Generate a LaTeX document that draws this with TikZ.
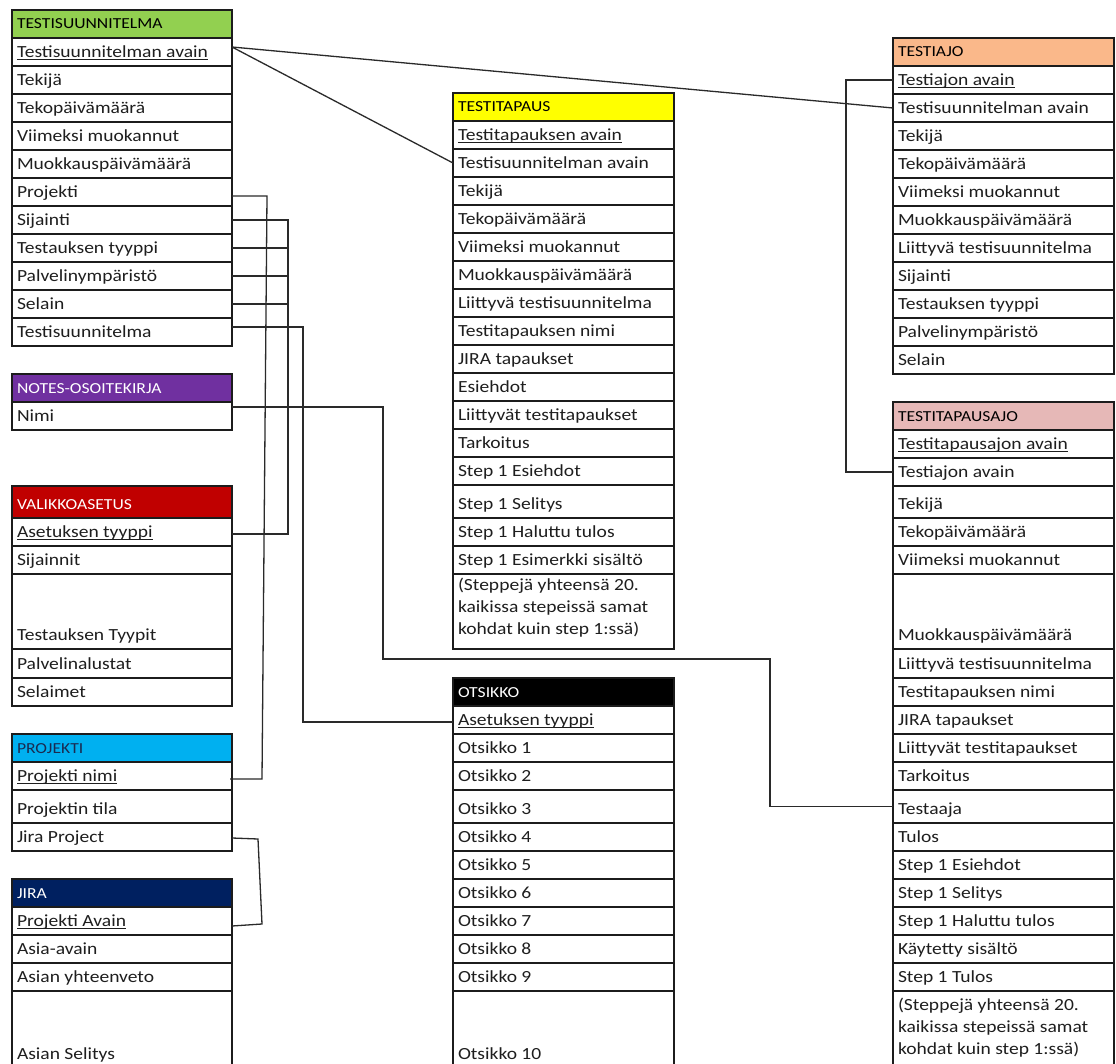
\documentclass[tikz,border=0pt]{standalone}
\usepackage{fontspec}
\setmainfont{Carlito}[FakeStretch=1.15]
\usetikzlibrary{calc}

\definecolor{gridline}{HTML}{1C1C1C}
\definecolor{ink}{HTML}{1E1E1E}
\definecolor{linkcol}{HTML}{2A2A2A}
\definecolor{hgreen}{HTML}{92D050}
\definecolor{hyellow}{HTML}{FFFF00}
\definecolor{horange}{HTML}{FAB88A}
\definecolor{hpink}{HTML}{E6B8B7}
\definecolor{hpurple}{HTML}{7030A0}
\definecolor{hred}{HTML}{C00000}
\definecolor{hblue}{HTML}{00B0F0}
\definecolor{hnavy}{HTML}{002060}
\definecolor{hnavytext}{HTML}{1A2A50}

\tikzset{
  rowbox/.style={draw=gridline, line width=1.4pt, fill=white, inner sep=0pt, outer sep=0pt},
  rowtext/.style={inner sep=0pt, outer sep=0pt, text=ink, font=\fontsize{17}{20}\selectfont},
  headtext/.style={inner sep=0pt, outer sep=0pt, font=\fontsize{15.3}{18}\selectfont},
  link/.style={draw=linkcol, line width=1.3pt, line join=miter}
}

% key field: text with a rule just under the baseline
\newcommand\keyu[1]{\setbox0\hbox{#1}\rlap{\rule[-2.6pt]{\wd0}{1pt}}\box0}

% table header: name, top, bottom, fill, text colour, title
\newcommand\tabhead[6]{%
  \node[rowbox,fill=#4,minimum width=\colw,minimum height={#3-#2},anchor=north west] (#1) at (\colx,#2) {};
  \node[headtext,text=#5,anchor=base west] (#1-t) at (\colx+5,#3-9) {#6};}

% table row: name, top, bottom, text
\newcommand\tabrow[4]{%
  \node[rowbox,minimum width=\colw,minimum height={#3-#2},anchor=north west] (#1) at (\colx,#2) {};
  \node[rowtext,anchor=base west] (#1-t) at (\colx+5,#3-8.5) {#4};}

% three-line note row: name, top, bottom, first baseline
\newcommand\tabsteps[4]{%
  \node[rowbox,minimum width=\colw,minimum height={#3-#2},anchor=north west] (#1) at (\colx,#2) {};
  \node[rowtext,anchor=base west] (#1-a) at (\colx+5,#4) {(Steppejä yhteensä 20.};
  \node[rowtext,anchor=base west] (#1-b) at (\colx+5,#4+22) {kaikissa stepeissä samat};
  \node[rowtext,anchor=base west] (#1-c) at (\colx+5,#4+44) {kohdat kuin step 1:ssä)};}

\begin{document}
\begin{tikzpicture}[x=1pt,y=-1pt]
\useasboundingbox (0,0) rectangle (1116,1064);
\clip (0,0) rectangle (1116,1064);
\fill[white] (0,0) rectangle (1116,1064);

% ---------- left column ----------
\def\colx{12}\def\colw{220}
\tabhead{tsh}{10}{38}{hgreen}{black}{TESTISUUNNITELMA}
\tabrow{ts1}{38}{66}{\keyu{Testisuunnitelman avain}}
\tabrow{ts2}{66}{94}{Tekijä}
\tabrow{ts3}{94}{122}{Tekopäivämäärä}
\tabrow{ts4}{122}{150}{Viimeksi muokannut}
\tabrow{ts5}{150}{178}{Muokkauspäivämäärä}
\tabrow{ts6}{178}{206}{Projekti}
\tabrow{ts7}{206}{234}{Sijainti}
\tabrow{ts8}{234}{262}{Testauksen tyyppi}
\tabrow{ts9}{262}{290}{Palvelinympäristö}
\tabrow{ts10}{290}{318}{Selain}
\tabrow{ts11}{318}{346}{Testisuunnitelma}

\tabhead{noh}{374}{402}{hpurple}{white}{NOTES-OSOITEKIRJA}
\tabrow{no1}{402}{430}{Nimi}

\tabhead{vah}{486}{518}{hred}{white}{VALIKKOASETUS}
\tabrow{va1}{518}{546}{\keyu{Asetuksen tyyppi}}
\tabrow{va2}{546}{574}{Sijainnit}
\tabrow{va3}{574}{649}{Testauksen Tyypit}
\tabrow{va4}{649}{678}{Palvelinalustat}
\tabrow{va5}{678}{706}{Selaimet}

\tabhead{pjh}{734}{762}{hblue}{hnavytext}{PROJEKTI}
\tabrow{pj1}{762}{790}{\keyu{Projekti nimi}}
\tabrow{pj2}{790}{823}{Projektin tila}
\tabrow{pj3}{823}{851}{Jira Project}

\tabhead{jrh}{879}{907}{hnavy}{white}{JIRA}
\tabrow{jr1}{907}{935}{\keyu{Projekti Avain}}
\tabrow{jr2}{935}{963}{Asia-avain}
\tabrow{jr3}{963}{991}{Asian yhteenveto}
\tabrow{jr4}{991}{1068}{Asian Selitys}

% ---------- middle column ----------
\def\colx{453}\def\colw{221}
\tabhead{tth}{93}{121}{hyellow}{black}{TESTITAPAUS}
\tabrow{tt1}{121}{149}{\keyu{Testitapauksen avain}}
\tabrow{tt2}{149}{177}{Testisuunnitelman avain}
\tabrow{tt3}{177}{205}{Tekijä}
\tabrow{tt4}{205}{233}{Tekopäivämäärä}
\tabrow{tt5}{233}{261}{Viimeksi muokannut}
\tabrow{tt6}{261}{289}{Muokkauspäivämäärä}
\tabrow{tt7}{289}{317}{Liittyvä testisuunnitelma}
\tabrow{tt8}{317}{345}{Testitapauksen nimi}
\tabrow{tt9}{345}{373}{JIRA tapaukset}
\tabrow{tt10}{373}{401}{Esiehdot}
\tabrow{tt11}{401}{429}{Liittyvät testitapaukset}
\tabrow{tt12}{429}{457}{Tarkoitus}
\tabrow{tt13}{457}{485}{Step 1 Esiehdot}
\tabrow{tt14}{485}{518}{Step 1 Selitys}
\tabrow{tt15}{518}{546}{Step 1 Haluttu tulos}
\tabrow{tt16}{546}{574}{Step 1 Esimerkki sisältö}
\tabsteps{tt17}{574}{649}{590.5}

\tabhead{oth}{678}{706}{black}{white}{OTSIKKO}
\tabrow{ot1}{706}{734}{\keyu{Asetuksen tyyppi}}
\tabrow{ot2}{734}{762}{Otsikko 1}
\tabrow{ot3}{762}{790}{Otsikko 2}
\tabrow{ot4}{790}{823}{Otsikko 3}
\tabrow{ot5}{823}{851}{Otsikko 4}
\tabrow{ot6}{851}{879}{Otsikko 5}
\tabrow{ot7}{879}{907}{Otsikko 6}
\tabrow{ot8}{907}{935}{Otsikko 7}
\tabrow{ot9}{935}{963}{Otsikko 8}
\tabrow{ot10}{963}{991}{Otsikko 9}
\tabrow{ot11}{991}{1068}{Otsikko 10}

% ---------- right column ----------
\def\colx{893}\def\colw{221}
\tabhead{tah}{38}{66}{horange}{black}{TESTIAJO}
\tabrow{ta1}{66}{94}{\keyu{Testiajon avain}}
\tabrow{ta2}{94}{122}{Testisuunnitelman avain}
\tabrow{ta3}{122}{150}{Tekijä}
\tabrow{ta4}{150}{178}{Tekopäivämäärä}
\tabrow{ta5}{178}{206}{Viimeksi muokannut}
\tabrow{ta6}{206}{234}{Muokkauspäivämäärä}
\tabrow{ta7}{234}{262}{Liittyvä testisuunnitelma}
\tabrow{ta8}{262}{290}{Sijainti}
\tabrow{ta9}{290}{318}{Testauksen tyyppi}
\tabrow{ta10}{318}{346}{Palvelinympäristö}
\tabrow{ta11}{346}{374}{Selain}

\tabhead{trh}{402}{430}{hpink}{black}{TESTITAPAUSAJO}
\tabrow{tr1}{430}{458}{\keyu{Testitapausajon avain}}
\tabrow{tr2}{458}{486}{Testiajon avain}
\tabrow{tr3}{486}{518}{Tekijä}
\tabrow{tr4}{518}{546}{Tekopäivämäärä}
\tabrow{tr5}{546}{574}{Viimeksi muokannut}
\tabrow{tr6}{574}{649}{Muokkauspäivämäärä}
\tabrow{tr7}{649}{678}{Liittyvä testisuunnitelma}
\tabrow{tr8}{678}{706}{Testitapauksen nimi}
\tabrow{tr9}{706}{734}{JIRA tapaukset}
\tabrow{tr10}{734}{762}{Liittyvät testitapaukset}
\tabrow{tr11}{762}{790}{Tarkoitus}
\tabrow{tr12}{790}{823}{Testaaja}
\tabrow{tr13}{823}{851}{Tulos}
\tabrow{tr14}{851}{879}{Step 1 Esiehdot}
\tabrow{tr15}{879}{907}{Step 1 Selitys}
\tabrow{tr16}{907}{935}{Step 1 Haluttu tulos}
\tabrow{tr17}{935}{963}{Käytetty sisältö}
\tabrow{tr18}{963}{991}{Step 1 Tulos}
\tabsteps{tr19}{991}{1068}{1010.5}

% ---------- relations ----------
\coordinate (tsk) at ($(ts1.north east)+(0,9)$);
\draw[link] (tsk) -- (tt2.west);
\draw[link] (tsk) -- (ta2.west);

% Projekti -> Projekti nimi
\draw[link] ($(ts6.east)+(0,4)$) -- ++(35,0) -- ($(pj1.east)+(30,3)$) -- ($(pj1.east)+(-2,3)$);

% Sijainti, tyyppi, ympäristö, selain -> Asetuksen tyyppi
\coordinate (busA) at ($(ts7.east)+(56,0)$);
\draw[link] (ts7.east) -| ($(va1.east)+(56,2)$) -- ($(va1.east)+(0,2)$);
\draw[link] (ts8.east) -- (ts8.east -| busA);
\draw[link] (ts9.east) -- (ts9.east -| busA);
\draw[link] (ts10.east) -- (ts10.east -| busA);

% Testisuunnitelma -> OTSIKKO
\draw[link] ($(ts11.east)+(0,-5)$) -| ($(ot1.west)+(-150,2)$) -- ($(ot1.west)+(0,2)$);

% Nimi -> Testaaja
\coordinate (bendN) at ($(no1.east)+(151,243)$);
\draw[link] ($(no1.east)+(0,-9)$) -| (bendN) -| ($(tr12.west)+(-123,0)$) -- (tr12.west);

% Jira Project -> Projekti Avain
\draw[link] ($(pj3.east)+(0,1)$) -- ($(pj3.east)+(26,2)$) -- ($(jr1.east)+(30,3)$) -- ($(jr1.east)+(0,5)$);

% Testiajon avain -> Testiajon avain
\draw[link] (ta1.west) -| ($(tr2.west)+(-47,0)$) -- (tr2.west);
\end{tikzpicture}
\end{document}
